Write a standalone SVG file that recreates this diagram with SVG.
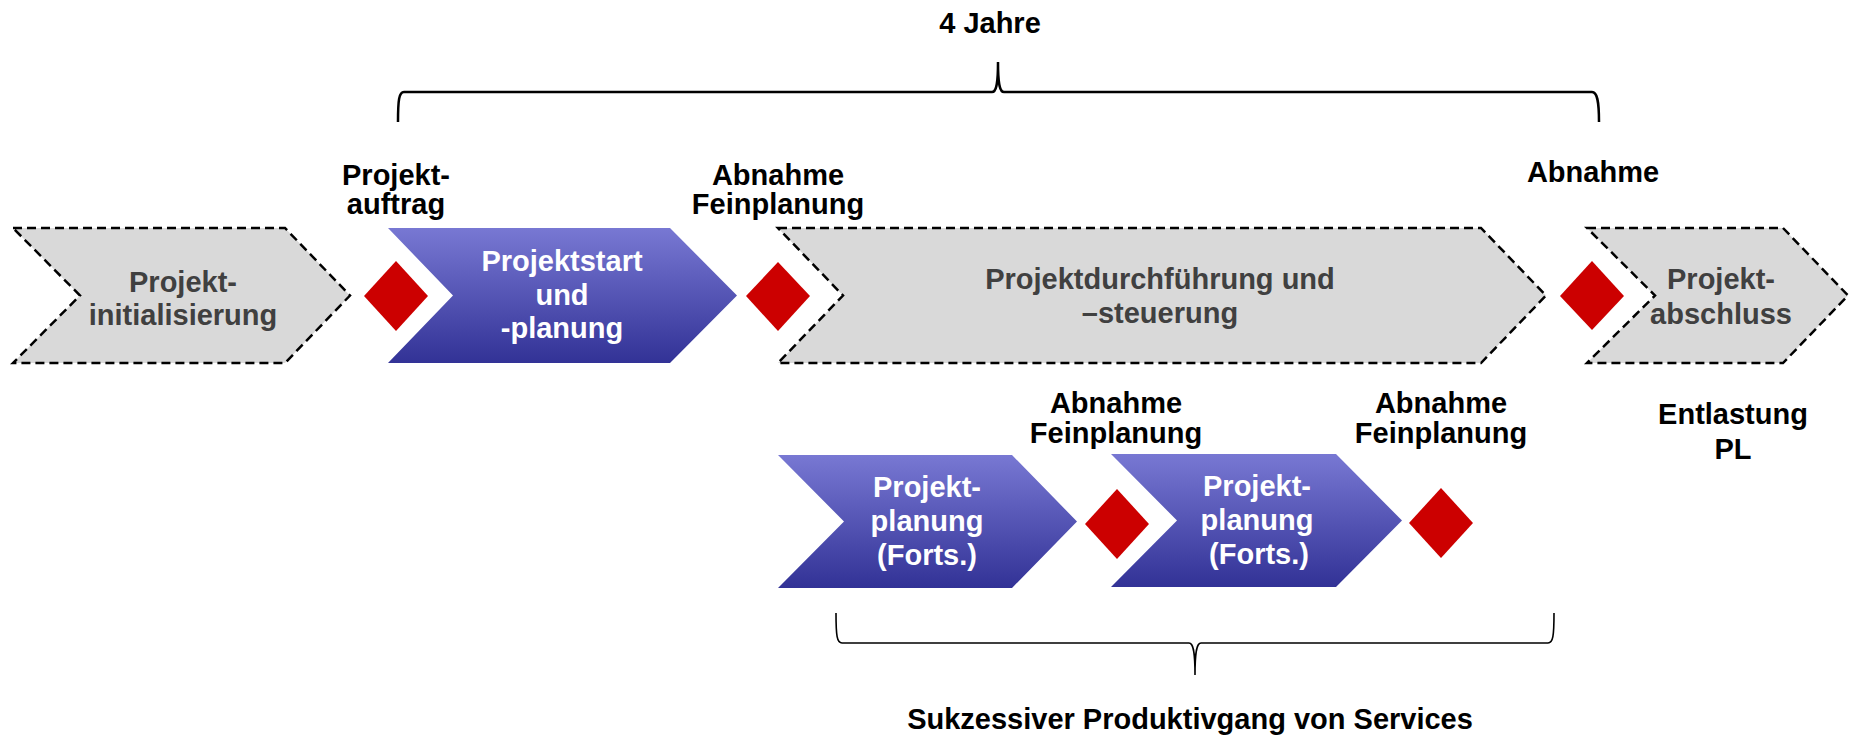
<svg xmlns="http://www.w3.org/2000/svg" width="1849" height="744" viewBox="0 0 1849 744">
<defs>
<linearGradient id="blue" x1="0" y1="0" x2="0" y2="1">
<stop offset="0" stop-color="#7878D3"/>
<stop offset="1" stop-color="#323296"/>
</linearGradient>
<style>
.gray{fill:#D9D9D9;stroke:#000;stroke-width:2.5;stroke-dasharray:9 5}
.blue{fill:url(#blue)}
.dia{fill:#CC0000}
text{font-family:"Liberation Sans",Arial,sans-serif;font-weight:bold;font-size:29px;text-anchor:middle}
.lbl{fill:#000}
.gt{fill:#404040}
.wt{fill:#fff}
.brace{fill:none;stroke:#000}
</style>
</defs>
<rect width="1849" height="744" fill="#fff"/>

<g id="connectors">
<path class="brace" stroke-width="2.5" d="M398,122 C398,100 399,92 404,92 L992,92 C996,92 998,85 998,62 C998,85 1000,92 1004,92 L1592,92 C1597,92 1599,100 1599,122"/>
<path class="brace" stroke-width="1.6" d="M836,613 C836,636 837,643 842,643 L1189,643 C1193,643 1195,650 1195,675 C1195,650 1197,643 1201,643 L1548,643 C1553,643 1554,636 1554,613"/>
</g>

<g id="node-init">
<polygon class="gray" points="13,228 285,228 350,295.5 285,363 13,363 80,295.5"/>
<text class="gt" x="183" y="292">Projekt-</text>
<text class="gt" x="183" y="325">initialisierung</text>
</g>

<g id="node-start">
<polygon class="blue" points="388,228 670,228 737,295.5 670,363 388,363 453,295.5"/>
<text class="wt" x="562" y="271">Projektstart</text>
<text class="wt" x="562" y="305">und</text>
<text class="wt" x="562" y="338">-planung</text>
</g>

<g id="node-durch">
<polygon class="gray" points="778,228 1481,228 1546,295.5 1481,363 778,363 843,295.5"/>
<text class="gt" x="1160" y="289">Projektdurchführung und</text>
<text class="gt" x="1160" y="323">–steuerung</text>
</g>

<g id="node-abschluss">
<polygon class="gray" points="1587,228 1783,228 1848,295.5 1783,363 1587,363 1655,295.5"/>
<text class="gt" x="1721" y="289">Projekt-</text>
<text class="gt" x="1721" y="324">abschluss</text>
</g>

<g id="node-plan1">
<polygon class="blue" points="778,455 1012,455 1077,521.5 1012,588 778,588 844,521.5"/>
<text class="wt" x="927" y="497">Projekt-</text>
<text class="wt" x="927" y="531">planung</text>
<text class="wt" x="927" y="565">(Forts.)</text>
</g>

<g id="node-plan2">
<polygon class="blue" points="1111,454 1336,454 1402,520.5 1336,587 1111,587 1177,520.5"/>
<text class="wt" x="1257" y="496">Projekt-</text>
<text class="wt" x="1257" y="530">planung</text>
<text class="wt" x="1259" y="564">(Forts.)</text>
</g>

<g id="ms1">
<polygon class="dia" points="396,261 428,296 396,331 364,296"/>
<text class="lbl" x="396" y="185">Projekt-</text>
<text class="lbl" x="396" y="214">auftrag</text>
</g>

<g id="ms2">
<polygon class="dia" points="778,262 810,296 778,331 746,296"/>
<text class="lbl" x="778" y="185">Abnahme</text>
<text class="lbl" x="778" y="214">Feinplanung</text>
</g>

<g id="ms3">
<polygon class="dia" points="1592,261 1624,296 1592,330 1560,296"/>
<text class="lbl" x="1593" y="182">Abnahme</text>
</g>

<g id="ms4">
<polygon class="dia" points="1117,489 1149,524 1117,559 1085,524"/>
<text class="lbl" x="1116" y="413">Abnahme</text>
<text class="lbl" x="1116" y="443">Feinplanung</text>
</g>

<g id="ms5">
<polygon class="dia" points="1441,488 1473,523 1441,558 1409,523"/>
<text class="lbl" x="1441" y="413">Abnahme</text>
<text class="lbl" x="1441" y="443">Feinplanung</text>
</g>

<g id="labels">
<text class="lbl" x="990" y="33">4 Jahre</text>
<text class="lbl" x="1733" y="424">Entlastung</text>
<text class="lbl" x="1733" y="459">PL</text>
<text class="lbl" x="1190" y="729">Sukzessiver Produktivgang von Services</text>
</g>
</svg>
